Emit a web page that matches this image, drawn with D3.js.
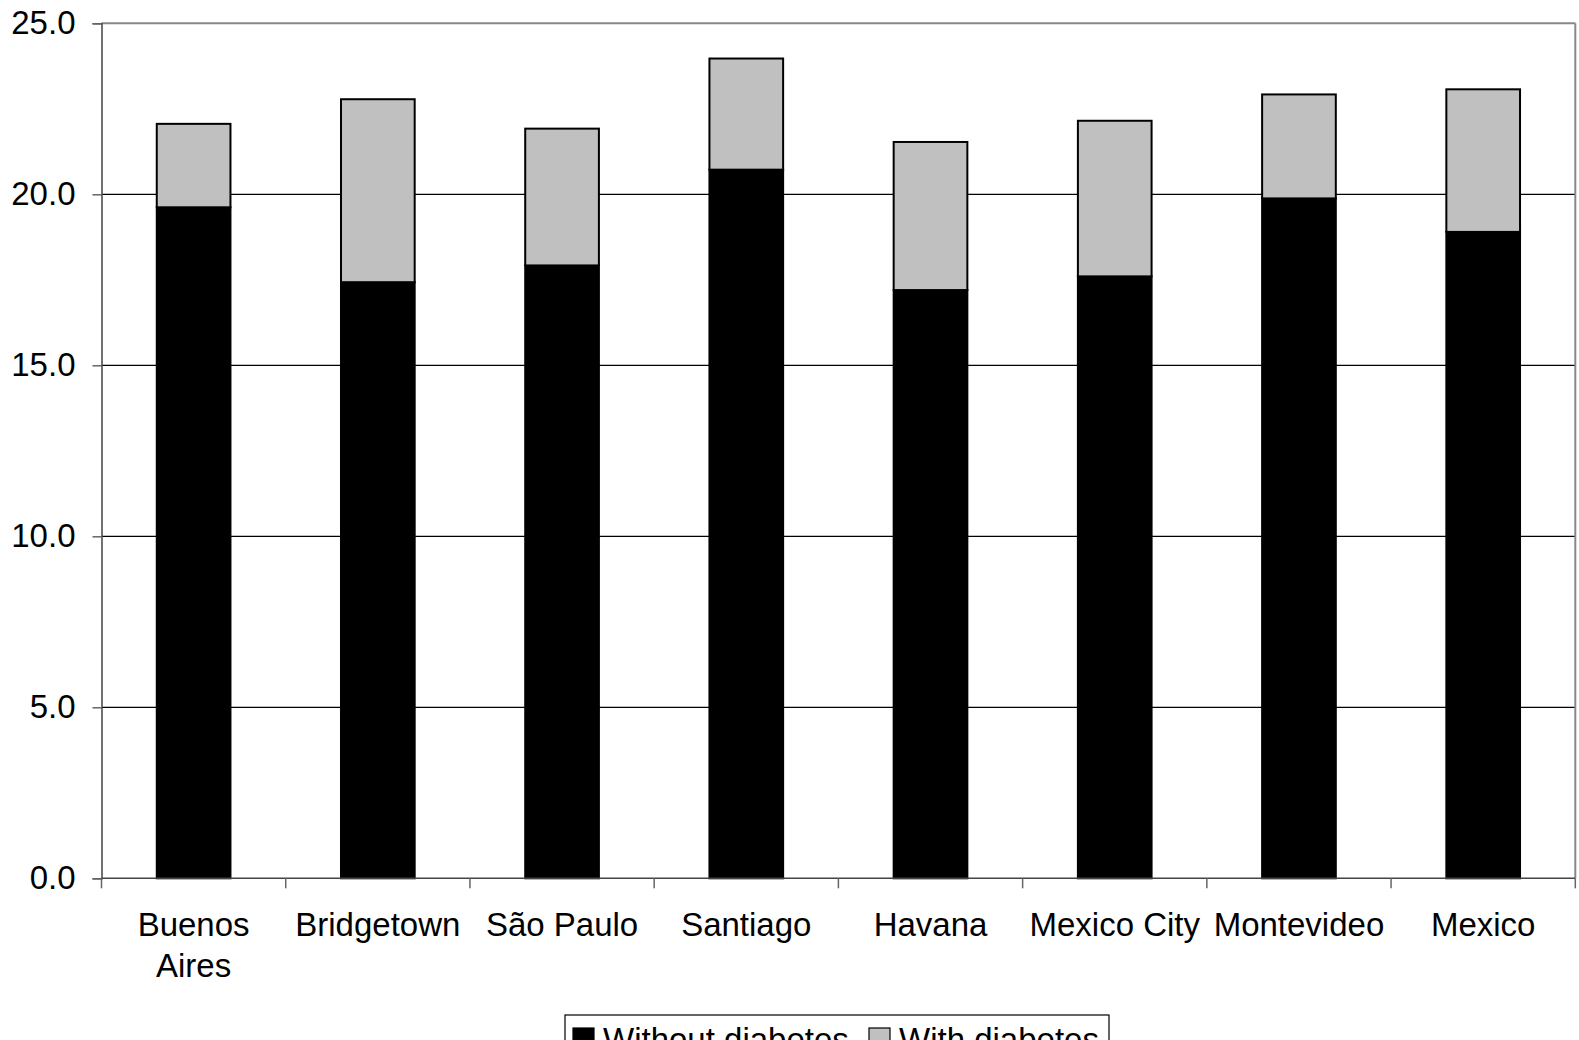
<!DOCTYPE html>
<html>
<head>
<meta charset="utf-8">
<script src="https://cdn.jsdelivr.net/npm/d3@7"></script>
<style>
  html, body { margin: 0; padding: 0; background: #fff; }
  svg { display: block; font-family: "Liberation Sans", Arial, sans-serif; }
</style>
</head>
<body>
<svg id="chart" width="1579" height="1040"></svg>
<script>
// ---- data ----
const categories = ["Buenos Aires", "Bridgetown", "São Paulo", "Santiago", "Havana", "Mexico City", "Montevideo", "Mexico"];
const withoutDiabetes = [19.62, 17.43, 17.92, 20.72, 17.20, 17.60, 19.88, 18.90];
const totalWithDiabetes = [22.06, 22.78, 21.92, 23.97, 21.53, 22.15, 22.92, 23.07];
const yTicks = [0, 5, 10, 15, 20, 25];
const seriesNames = ["Without diabetes", "With diabetes"];
const seriesColors = ["#000000", "#c0c0c0"];

(function () {
// ---- layout ----
const svg = d3.select("#chart");
const pLeft = 101.5, pRight = 1575.3, pTop = 23.3, pBottom = 878.3;
const fontSize = 33;

const x = d3.scaleBand().domain(categories).range([pLeft, pRight])
  .paddingInner(0.6).paddingOuter(0.3);
const step = x.step();
const y = d3.scaleLinear().domain([0, 25]).range([pBottom, pTop]);

// gridlines
svg.append("g").selectAll("line").data(yTicks.filter(t => t > 0 && t < 25)).join("line")
  .attr("x1", pLeft).attr("x2", pRight)
  .attr("y1", d => y(d)).attr("y2", d => y(d))
  .attr("stroke", "#000").attr("stroke-width", 1.2);

// plot border top & right
svg.append("line").attr("x1", pLeft).attr("x2", pRight).attr("y1", y(25)).attr("y2", y(25))
  .attr("stroke", "#888").attr("stroke-width", 2);
svg.append("line").attr("x1", pRight).attr("x2", pRight).attr("y1", pTop).attr("y2", pBottom)
  .attr("stroke", "#888").attr("stroke-width", 2);

// stacked bars
const stacked = categories.map((c, i) => ({
  cat: c,
  segs: [
    { y0: 0, y1: withoutDiabetes[i], color: seriesColors[0] },
    { y0: withoutDiabetes[i], y1: totalWithDiabetes[i], color: seriesColors[1] }
  ]
}));
const barG = svg.append("g");
stacked.forEach(d => {
  barG.selectAll(null).data(d.segs).join("rect")
    .attr("x", x(d.cat))
    .attr("width", x.bandwidth())
    .attr("y", s => y(s.y1))
    .attr("height", s => y(s.y0) - y(s.y1))
    .attr("fill", s => s.color)
    .attr("stroke", "#000")
    .attr("stroke-width", 2);
});

// y axis
const yAxis = d3.axisLeft(y).tickValues(yTicks).tickFormat(d3.format(".1f")).tickSize(9).tickPadding(17);
const gy = svg.append("g").attr("transform", `translate(${pLeft},0)`).call(yAxis);
gy.select(".domain").attr("stroke", "#444").attr("stroke-width", 1.5);
gy.selectAll(".tick line").attr("stroke", "#666").attr("stroke-width", 1.5);
gy.selectAll("text").attr("font-size", fontSize).attr("fill", "#000")
  .attr("font-family", "Liberation Sans, Arial, sans-serif");

// x axis line
svg.append("line").attr("x1", pLeft).attr("x2", pRight).attr("y1", pBottom).attr("y2", pBottom)
  .attr("stroke", "#444").attr("stroke-width", 1.5);
// x ticks at band boundaries
const bounds = d3.range(categories.length + 1).map(i => pLeft + i * step);
svg.append("g").selectAll("line").data(bounds).join("line")
  .attr("x1", d => d).attr("x2", d => d).attr("y1", pBottom).attr("y2", pBottom + 10)
  .attr("stroke", "#666").attr("stroke-width", 1.5);

// x labels with wrapping
const xl = svg.append("g").attr("font-size", fontSize).attr("text-anchor", "middle");
categories.forEach(c => {
  const cx = x(c) + x.bandwidth() / 2;
  const t = xl.append("text").attr("x", cx).attr("y", 936);
  const words = c.split(" ");
  let line = [];
  let tspan = t.append("tspan").attr("x", cx).attr("dy", 0);
  words.forEach(w => {
    line.push(w);
    tspan.text(line.join(" "));
    if (tspan.node().getComputedTextLength() > step - 2 && line.length > 1) {
      line.pop();
      tspan.text(line.join(" "));
      line = [w];
      tspan = t.append("tspan").attr("x", cx).attr("dy", 40.5).text(w);
    }
  });
});

// legend
const lg = svg.append("g");
lg.append("rect").attr("x", 565).attr("y", 1015).attr("width", 544).attr("height", 60)
  .attr("fill", "#fff").attr("stroke", "#000").attr("stroke-width", 1.2);
const legX = [573, 869];
seriesNames.forEach((n, i) => {
  lg.append("rect").attr("x", legX[i]).attr("y", 1028).attr("width", 21).attr("height", 21)
    .attr("fill", seriesColors[i]).attr("stroke", "#000").attr("stroke-width", 1.2);
  lg.append("text").attr("x", legX[i] + 30).attr("y", 1051).attr("font-size", fontSize)
    .attr("fill", "#000").text(n);
});
})();
</script>
</body>
</html>
